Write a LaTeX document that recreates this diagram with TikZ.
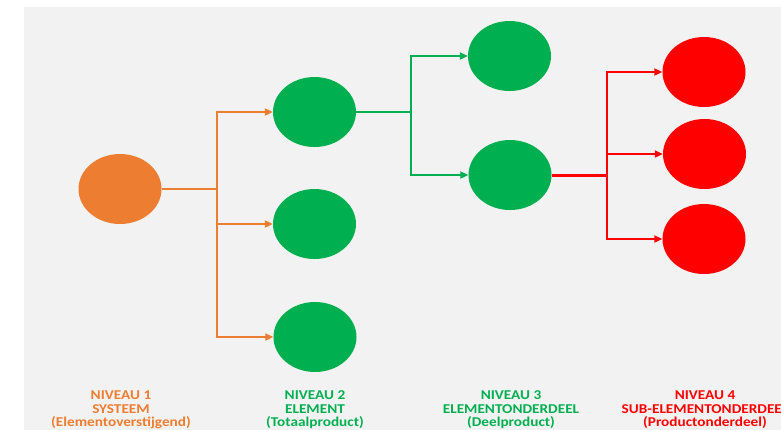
\documentclass[tikz,border=0pt]{standalone}
\usepackage{fontspec}
\setmainfont{Carlito}
\newfontfamily\lblfont[FakeStretch=1.13]{Carlito}
\usetikzlibrary{shapes.geometric,arrows.meta}
\definecolor{corange}{HTML}{ED7D31}
\definecolor{cgreen}{HTML}{00B050}
\definecolor{cred}{HTML}{FF0000}
\definecolor{cbg}{HTML}{F2F2F2}
\tikzset{
  blob/.style={ellipse, minimum width=83pt, minimum height=70pt, inner sep=0pt, draw=none},
  tip/.style={-{Triangle[length=8pt,width=7pt]}},
  oline/.style={draw=corange, line width=2.2pt},
  gline/.style={draw=cgreen, line width=2pt},
  rline/.style={draw=cred, line width=2.4pt},
  lbl/.style={align=center, font=\lblfont\fontsize{13.5}{13.3}\selectfont\bfseries, anchor=base, inner sep=0pt}
}
\begin{document}
\begin{tikzpicture}[x=1pt,y=-1pt]
\clip (0,0) rectangle (781,429);
\fill[white] (0,0) rectangle (781,429);
\fill[cbg] (24,7) rectangle (782,430);
% nodes
\node[blob, fill=corange] (sys) at (120,189) {};
\node[blob, fill=cgreen] (e1) at (314.5,112) {};
\node[blob, fill=cgreen] (e2) at (314.5,224) {};
\node[blob, fill=cgreen] (e3) at (315,337) {};
\node[blob, fill=cgreen] (d1) at (509.5,56) {};
\node[blob, fill=cgreen] (d2) at (510,175) {};
\node[blob, fill=cred] (p1) at (704,72) {};
\node[blob, fill=cred] (p2) at (704.5,154) {};
\node[blob, fill=cred] (p3) at (704,239) {};
% junctions
\coordinate (j1) at (217,189);
\coordinate (j2) at (411,112);
\coordinate (j3) at (607,175);
% orange
\draw[oline] (sys.east) -- (j1);
\draw[oline, tip, color=corange] (j1) |- (e1.west);
\draw[oline, tip, color=corange] (j1) |- (e2.west);
\draw[oline, tip, color=corange] (j1) |- (e3.west);
% green
\draw[gline] (e1.east) -- (j2);
\draw[gline, tip, color=cgreen] (j2) |- (d1.west);
\draw[gline, tip, color=cgreen] (j2) |- (d2.west);
% red
\draw[rline, line width=3pt] (d2.east) -- (j3);
\draw[rline, tip, color=cred] (j3) |- (p1.west);
\draw[rline, tip, color=cred] (j3) |- (p2.west);
\draw[rline, tip, color=cred] (j3) |- (p3.west);
% labels
\node[lbl, text=corange] (t1) at (121,426.3) {NIVEAU 1\\SYSTEEM\\(Elementoverstijgend)};
\node[lbl, text=cgreen] (t2) at (315,426.3) {NIVEAU 2\\ELEMENT\\(Totaalproduct)};
\node[lbl, text=cgreen] (t3) at (511,426.3) {NIVEAU 3\\ELEMENTONDERDEEL\\(Deelproduct)};
\node[lbl, text=cred] (t4) at (705,426.3) {NIVEAU 4\\SUB-ELEMENTONDERDEEL\\(Productonderdeel)};
\end{tikzpicture}
\end{document}
